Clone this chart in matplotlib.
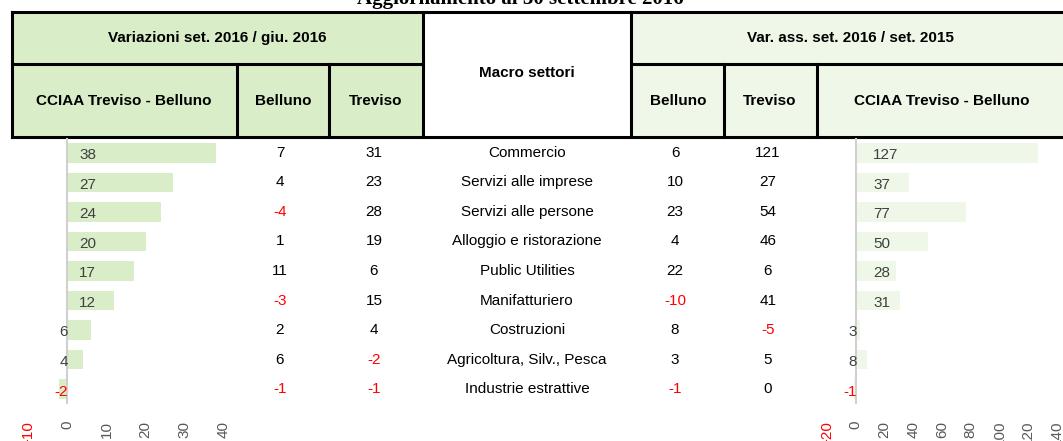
import numpy as np
import matplotlib
matplotlib.use("Agg")
import matplotlib.pyplot as plt
from matplotlib.patches import Rectangle
from matplotlib.transforms import blended_transform_factory

plt.rcParams['font.family'] = ['Liberation Sans', 'DejaVu Sans']

# data
settori = ["Commercio", "Servizi alle imprese", "Servizi alle persone",
           "Alloggio e ristorazione", "Public Utilities", "Manifatturiero",
           "Costruzioni", "Agricoltura, Silv., Pesca", "Industrie estrattive"]
# variazioni set. 2016 / giu. 2016
var_cciaa = [38, 27, 24, 20, 17, 12, 6, 4, -2]
var_belluno = [7, 4, -4, 1, 11, -3, 2, 6, -1]
var_treviso = [31, 23, 28, 19, 6, 15, 4, -2, -1]
# var. ass. set. 2016 / set. 2015
ass_belluno = [6, 10, 23, 4, 22, -10, 8, 3, -1]
ass_treviso = [121, 27, 54, 46, 6, 41, -5, 5, 0]
ass_cciaa = [127, 37, 77, 50, 28, 31, 3, 8, -1]

ticks_left = [-10, 0, 10, 20, 30, 40]
ticks_right = [-20, 0, 20, 40, 60, 80, 100, 120, 140]

W, H = 1063, 441
GREEN = "#D9EEC8"
PALE = "#EEF7E8"
RED = "#FF0000"
GRAY_TXT = "#404040"
FS = 11

fig = plt.figure(figsize=(W / 100, H / 100), dpi=100)


def px_axes(x0, y0, x1, y1):
    return fig.add_axes([x0 / W, 1 - y1 / H, (x1 - x0) / W, (y1 - y0) / H])


ov = px_axes(0, 0, W, H)
ov.set_xlim(0, W)
ov.set_ylim(H, 0)
ov.axis("off")
ov.set_zorder(0)

# title (cut off at the top like in the original)
ov.text(520, 4, "Aggiornamento al 30 settembre 2016", ha="center", va="baseline",
        fontfamily="Liberation Serif", fontweight="bold", fontsize=15)

# header table
top, mid, bot = 12, 64, 137
ov.add_patch(Rectangle((12, top), 411, bot - top, fc=GREEN, ec="none"))
ov.add_patch(Rectangle((631, top), 440, bot - top, fc=PALE, ec="none"))
lw = 2.2
ov.plot([12, 1070], [top, top], color="black", lw=lw)
ov.plot([12, 1070], [bot, bot], color="black", lw=lw)
ov.plot([12, 423], [mid, mid], color="black", lw=lw)
ov.plot([631, 1070], [mid, mid], color="black", lw=lw)
for x in [12, 423, 631]:
    ov.plot([x, x], [top, bot], color="black", lw=lw)
for x in [237, 329, 724, 817]:
    ov.plot([x, x], [mid, bot], color="black", lw=lw)

hkw = dict(ha="center", va="center", fontsize=FS, fontweight="bold")
ov.text(217, 38, "Variazioni set. 2016 / giu. 2016", **hkw)
ov.text(124, 101, "CCIAA Treviso - Belluno", **hkw)
ov.text(283, 101, "Belluno", **hkw)
ov.text(376, 101, "Treviso", **hkw)
ov.text(527, 73, "Macro settori", **hkw)
ov.text(850, 38, "Var. ass. set. 2016 / set. 2015", **hkw)
ov.text(678, 101, "Belluno", **hkw)
ov.text(770, 101, "Treviso", **hkw)
ov.text(942, 101, "CCIAA Treviso - Belluno", **hkw)

# bar charts
y = np.arange(len(settori))
axL = px_axes(28, 138, 224, 404)
axR = px_axes(827, 138, 1057, 404)


def bar_panel(ax, vals, color, lim, ticks, pad_units):
    ax.barh(y, vals, height=0.66, color=color)
    ax.set_xlim(*lim)
    ax.set_ylim(len(vals) - 0.5, -0.5)
    ax.axvline(0, color="#D0D0D0", lw=1.5)
    for s in ax.spines.values():
        s.set_visible(False)
    ax.set_yticks([])
    ax.set_xticks(ticks)
    ax.tick_params(axis="x", length=0, pad=12, labelsize=FS, labelcolor="#595959",
                   labelrotation=90)
    for lab, t in zip(ax.get_xticklabels(), ticks):
        if t < 0:
            lab.set_color(RED)
    ax.patch.set_alpha(0)
    for i, v in enumerate(vals):
        c = RED if v < 0 else GRAY_TXT
        if abs(v) >= 10:
            ax.text(pad_units, i + 0.08, str(v), ha="left", va="center",
                    fontsize=FS, color=c)
        else:
            ax.text(pad_units * 0.05, i + 0.08, str(v), ha="right", va="center",
                    fontsize=FS, color=c)


bar_panel(axL, var_cciaa, GREEN, (-10, 40), ticks_left, 3)
bar_panel(axR, ass_cciaa, PALE, (-20, 140), ticks_right, 12)

# text columns, rows follow the bar axis
tr = blended_transform_factory(ov.transData, axL.transData)


def col(x, vals):
    for i, v in enumerate(vals):
        ov.text(x, i, str(v), transform=tr, ha="center", va="center",
                fontsize=FS, color=RED if v < 0 else "black")


col(280, var_belluno)
col(374, var_treviso)
for i, s in enumerate(settori):
    ov.text(527, i, s, transform=tr, ha="center", va="center", fontsize=FS)
col(675, ass_belluno)
col(768, ass_treviso)

fig.savefig("out.png", dpi=100)
